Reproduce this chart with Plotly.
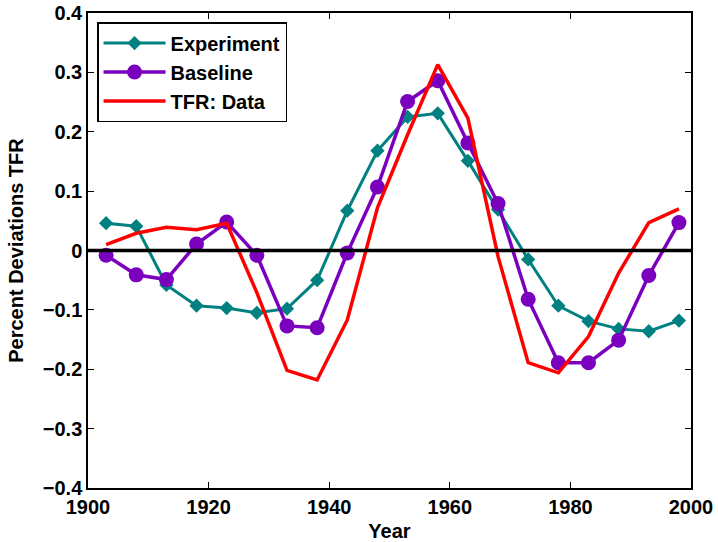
import plotly.graph_objects as go

years = [1903, 1908, 1913, 1918, 1923, 1928, 1933, 1938, 1943, 1948,
         1953, 1958, 1963, 1968, 1973, 1978, 1983, 1988, 1993, 1998]

experiment = [0.046, 0.041, -0.058, -0.093, -0.097, -0.105, -0.098, -0.050, 0.067, 0.168,
              0.225, 0.231, 0.151, 0.069, -0.015, -0.093, -0.119, -0.132, -0.136, -0.118]

baseline = [-0.008, -0.041, -0.049, 0.011, 0.048, -0.008, -0.127, -0.130, -0.004, 0.107,
            0.251, 0.286, 0.181, 0.079, -0.082, -0.189, -0.189, -0.151, -0.042, 0.047]

tfr_data = [0.010, 0.029, 0.039, 0.035, 0.046, -0.071, -0.202, -0.218, -0.117, 0.072,
            0.195, 0.313, 0.223, -0.010, -0.189, -0.206, -0.145, -0.038, 0.047, 0.070]

x_ticks = [1900, 1920, 1940, 1960, 1980, 2000]
y_ticks = [0.4, 0.3, 0.2, 0.1, 0, -0.1, -0.2, -0.3, -0.4]
y_ticktext = ["0.4", "0.3", "0.2", "0.1", "0", "\u22120.1", "\u22120.2", "\u22120.3", "\u22120.4"]

FONT = "Liberation Sans, Arial, sans-serif"

fig = go.Figure()
fig.add_trace(go.Scatter(
    x=years, y=experiment, name="Experiment", mode="lines+markers",
    line=dict(color="rgb(0,128,128)", width=3),
    marker=dict(symbol="diamond", size=11, color="rgb(0,128,128)")))
fig.add_trace(go.Scatter(
    x=years, y=baseline, name="Baseline", mode="lines+markers",
    line=dict(color="rgb(122,0,190)", width=3.5),
    marker=dict(symbol="circle", size=15, color="rgb(122,0,190)")))
fig.add_trace(go.Scatter(
    x=years, y=tfr_data, name="TFR: Data", mode="lines",
    line=dict(color="rgb(255,0,0)", width=3.5)))

fig.add_shape(type="line", xref="paper", x0=0, x1=1, yref="y", y0=0, y1=0,
              line=dict(color="black", width=3.5), layer="above")

axis_common = dict(
    showgrid=False, zeroline=False, showline=True, linecolor="black", linewidth=1.5,
    mirror="ticks", ticks="inside", ticklen=6, tickwidth=1, tickcolor="black",
    tickfont=dict(family=FONT, size=20, color="black", weight="bold"),
    automargin=False,
)

fig.update_xaxes(range=[1900, 2000], tickvals=x_ticks,
                 title=dict(text="Year", font=dict(family=FONT, size=20, color="black", weight="bold"),
                            standoff=12),
                 **axis_common)
fig.update_yaxes(range=[-0.4, 0.4], tickvals=y_ticks, ticktext=y_ticktext,
                 title=dict(text="Percent Deviations TFR",
                            font=dict(family=FONT, size=20, color="black", weight="bold"), standoff=14),
                 **axis_common)

fig.update_layout(
    width=718, height=542,
    margin=dict(l=88, r=27, t=13, b=54),
    plot_bgcolor="white", paper_bgcolor="white",
    font=dict(family=FONT, size=20, color="black"),
    legend=dict(x=0.015, y=0.981, xanchor="left", yanchor="top",
                bgcolor="white", bordercolor="black", borderwidth=1.5,
                font=dict(family=FONT, size=20, color="black", weight="bold"),
                itemwidth=62, tracegroupgap=0),
    showlegend=True,
)

fig.write_html("out.html")
